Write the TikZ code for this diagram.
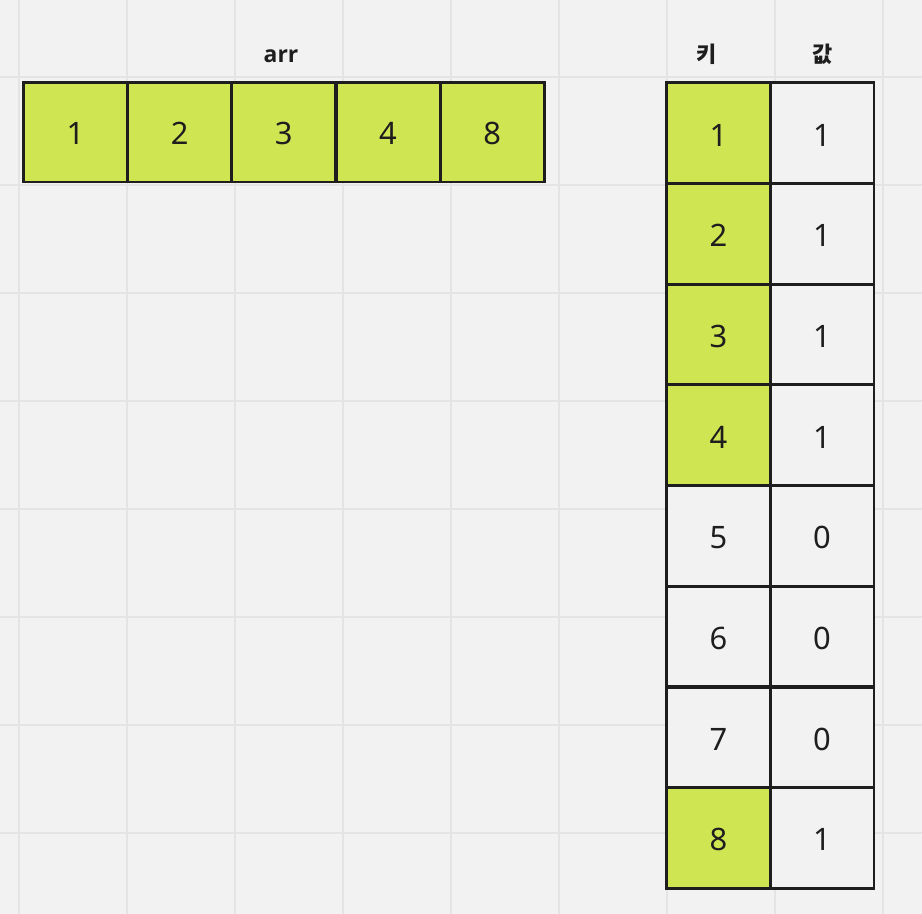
\documentclass[tikz,border=0pt]{standalone}
\usepackage{fontspec}
\setmainfont{Noto Sans}
\newfontfamily\hfont{Open Sans}
\newfontfamily\kofont{Noto Sans CJK KR}
\definecolor{bgc}{HTML}{F2F2F2}
\definecolor{gridc}{HTML}{E4E4E4}
\definecolor{lime}{HTML}{D0E552}
\definecolor{ink}{HTML}{1E1E1E}
\begin{document}
\begin{tikzpicture}[x=1bp,y=-1bp,
  cell/.style={minimum width=104.2bp,minimum height=99bp,inner sep=0pt,font=\fontsize{31}{32}\selectfont,text=ink,text height=25bp,text depth=0bp,anchor=center},
  tcell/.style={minimum width=103.5bp,minimum height=100.7bp,inner sep=0pt,font=\fontsize{31}{32}\selectfont,text=ink,text height=26bp,text depth=0bp,anchor=center},
  hit/.style={fill=lime},
  miss/.style={fill=bgc},
  border/.style={draw=ink,line width=2.8bp},
  head/.style={text=ink,inner sep=0pt}]
\fill[bgc] (0,0) rectangle (922,914);
\useasboundingbox (0,0) rectangle (922,914);
\foreach \i in {0,...,8} \draw[gridc,line width=2bp] (19+108*\i,0) -- (19+108*\i,914);
\foreach \j in {0,...,7} \draw[gridc,line width=2bp] (0,77+108*\j) -- (922,77+108*\j);
% arr
\node[head,font=\hfont\bfseries\fontsize{23}{25}\selectfont] (arrlbl) at (281,56) {arr};
\foreach \v [count=\k from 0] in {1,2,3,4,8}
  \node[cell,hit] (a\k) at (75.4+104.2*\k,132.2) {\v};
\foreach \k in {0,...,4}
  \draw[border] (a\k.north west) rectangle (a\k.south east);
% table headers
\node[head,font=\kofont\bfseries\fontsize{22}{24}\selectfont] (hkey) at (707,54) {키};
\node[head,font=\kofont\bfseries\fontsize{22}{24}\selectfont] (hval) at (823,54) {값};
% table
\foreach \kk/\vv/\st [count=\r from 0] in {1/1/hit,2/1/hit,3/1/hit,4/1/hit,5/0/miss,6/0/miss,7/0/miss,8/1/hit}{
  \node[tcell,\st] (k\r) at (718.4,133.05+100.7*\r) {\kk};
  \node[tcell,miss] (v\r) at (822,133.05+100.7*\r) {\vv};
}
\foreach \r in {0,...,7}{
  \draw[border] (k\r.north west) rectangle (k\r.south east);
  \draw[border] (v\r.north west) rectangle (v\r.south east);
}
\end{tikzpicture}
\end{document}
